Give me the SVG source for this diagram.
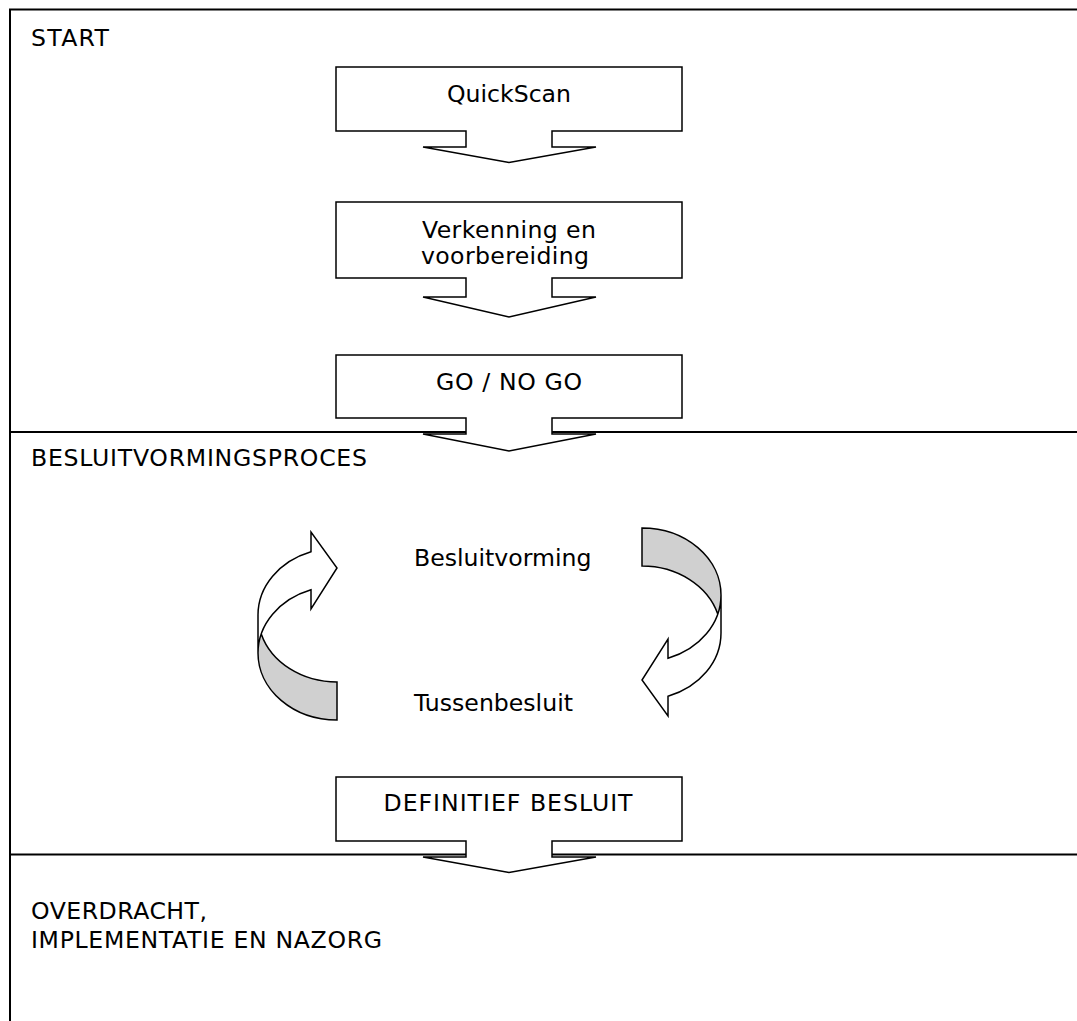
<svg xmlns="http://www.w3.org/2000/svg" xmlns:xlink="http://www.w3.org/1999/xlink" width="1077" height="1021" viewBox="0 0 1077 1021">
<style>
text{font-family:"DejaVu Sans","Verdana",sans-serif;font-size:23.6px;fill:#000}
.c{text-anchor:middle}
.frame{stroke:#000;stroke-width:2;fill:none}
.box{fill:#fff;stroke:#000;stroke-width:1.5;stroke-linejoin:miter}
.white{fill:#fff;stroke:none}
.dark{fill:#d0d0d0;stroke:none}
.outline{fill:none;stroke:#000;stroke-width:1.5;stroke-linejoin:miter}
</style>
<defs>
<g id="carrow">
<path class="white" d="M258,653 A79,67 0 0 1 311,589.7 L311,609 L337,568 L311,532 L311,551.7 A79,67 0 0 0 258,615 Z"/>
<path class="dark" d="M337,682 A79,67 0 0 1 261.25,634 A79,67 0 0 0 337,720 Z"/>
<path class="outline" d="M258,653 A79,67 0 0 1 311,589.7 L311,609 L337,568 L311,532 L311,551.7 A79,67 0 0 0 258,615 L258,653 A79,67 0 0 0 337,720 L337,682 A79,67 0 0 1 261.25,634"/>
</g>
</defs>
<rect width="1077" height="1021" fill="#fff"/>
<g id="frame">
<path class="frame" d="M10,1021 V9.5 H1077"/>
<line class="frame" x1="10" y1="432" x2="1077" y2="432"/>
<line class="frame" x1="10" y1="854.5" x2="1077" y2="854.5"/>
</g>
<g id="section-start"><text x="31" y="46" textLength="78" lengthAdjust="spacing">START</text></g>
<g id="section-besluit"><text x="31" y="466" textLength="336" lengthAdjust="spacing">BESLUITVORMINGSPROCES</text></g>
<g id="section-overdracht"><text x="31" y="919" textLength="176" lengthAdjust="spacing">OVERDRACHT,</text><text x="31" y="948" textLength="351" lengthAdjust="spacing">IMPLEMENTATIE EN NAZORG</text></g>
<g id="connectors">
<g id="loop-left"><use xlink:href="#carrow" href="#carrow"/></g>
<g id="loop-right"><use xlink:href="#carrow" href="#carrow" transform="rotate(180 489.5 624)"/></g>
</g>
<g id="quickscan">
<path class="box" d="M336,67 H682 V131 H552 V147 H596 L509,162.5 L423,147 H466 V131 H336 Z"/>
<text class="c" x="509" y="102">QuickScan</text>
</g>
<g id="verkenning">
<path class="box" d="M336,202 H682 V278 H552 V297 H596 L509,317 L423,297 H466 V278 H336 Z"/>
<text class="c" x="509" y="238" textLength="174" lengthAdjust="spacing">Verkenning en</text>
<text class="c" x="505" y="263.5" textLength="168" lengthAdjust="spacing">voorbereiding</text>
</g>
<g id="gonogo">
<path class="box" d="M336,355 H682 V418 H552 V434 H596 L509,451 L423,434 H466 V418 H336 Z"/>
<text class="c" x="509" y="390" textLength="146" lengthAdjust="spacing">GO / NO GO</text>
</g>
<g id="besluitvorming"><text x="414" y="566">Besluitvorming</text></g>
<g id="tussenbesluit"><text x="414" y="711">Tussenbesluit</text></g>
<g id="definitief">
<path class="box" d="M336,777 H682 V841 H552 V857 H596 L509,872.5 L423,857 H466 V841 H336 Z"/>
<text class="c" x="508" y="811" textLength="249" lengthAdjust="spacing">DEFINITIEF BESLUIT</text>
</g>
</svg>
